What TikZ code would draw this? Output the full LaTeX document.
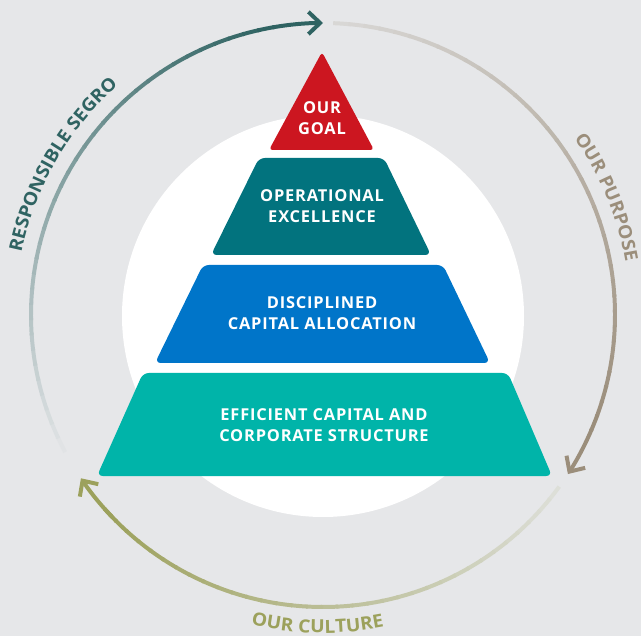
\documentclass[tikz,border=0pt]{standalone}
\usepackage{fontspec}
\setsansfont{Open Sans}
\usetikzlibrary{arrows.meta, decorations.text}

\definecolor{pagegrey}{HTML}{E6E7E9}
\definecolor{goalred}{HTML}{CC1620}
\definecolor{opteal}{HTML}{02737E}
\definecolor{capblue}{HTML}{0075C9}
\definecolor{effgreen}{HTML}{00B4A9}
\definecolor{respteal}{HTML}{2F6362}
\definecolor{purposetaupe}{HTML}{9B8E7B}
\definecolor{cultureolive}{HTML}{9CA15C}

\newcommand\pyrfont{\sffamily\bfseries\fontsize{14}{18}\selectfont\addfontfeatures{LetterSpace=5}}
\newcommand\arcfont{\sffamily\bfseries\fontsize{15.5}{15.5}\selectfont\addfontfeatures{FakeStretch=1.06}}

\tikzset{
  layer/.style={rounded corners=5pt},
  layertext/.style={text=white, align=center, font=\pyrfont},
  ring/.style={line width=3.4pt},
  tip/.style={-{Straight Barb[length=10pt, width=19pt]}},
  ringlabel/.style 2 args={decorate, decoration={text along path, text align=center,
      text color=#2, text={|\arcfont|#1}}},
}

\begin{document}
\begin{tikzpicture}[x=0.03cm, y=0.03cm]
  % page and white disc
  \fill[pagegrey] (0,0) rectangle (641,636);
  \useasboundingbox (0,0) rectangle (641,636);
  \coordinate (c) at (323,321);
  \fill[white] (323,320) circle[radius=201];

  % pyramid, bottom to top
  \fill[effgreen, layer] (97,160) -- (143,263) -- (508,263) -- (552,160) -- cycle;
  \fill[capblue, layer] (155,273) -- (203,371) -- (443,371) -- (490,273) -- cycle;
  \fill[opteal, layer] (211,381) -- (259,478) -- (384,478) -- (431,381) -- cycle;
  \fill[goalred, rounded corners=3pt] (269,486) -- (322,584) -- (374,486) -- cycle;

  \node[layertext] (effcap) at (324,211) {EFFICIENT CAPITAL AND\\CORPORATE STRUCTURE};
  \node[layertext] (capalloc) at (322,323) {DISCIPLINED\\CAPITAL ALLOCATION};
  \node[layertext] (opex) at (322,430) {OPERATIONAL\\EXCELLENCE};
  \node[layertext] (goal) at (322,518) {OUR\\GOAL};

  % responsible segro ring
  \foreach \i in {0,...,35}{
    \pgfmathsetmacro\a{208-3*\i}
    \pgfmathsetmacro\m{3+97*\i/35}
    \draw[ring, draw=respteal!\m!pagegrey] (c) ++(\a:292) arc[start angle=\a, delta angle=-3.4, radius=292];
  }
  \draw[ring, respteal, tip] (c) ++(100:292) arc[start angle=100, end angle=90, radius=292];

  % our purpose ring
  \foreach \i in {0,...,36}{
    \pgfmathsetmacro\a{88-3*\i}
    \pgfmathsetmacro\m{18+82*\i/36}
    \draw[ring, draw=purposetaupe!\m!pagegrey] (c) ++(\a:292) arc[start angle=\a, delta angle=-3.4, radius=292];
  }
  \draw[ring, purposetaupe, tip] (c) ++(-23:292) arc[start angle=-23, end angle=-33, radius=292];

  % our culture ring
  \foreach \i in {0,...,33}{
    \pgfmathsetmacro\a{-36-3*\i}
    \pgfmathsetmacro\m{12+88*\i/33}
    \draw[ring, draw=cultureolive!\m!pagegrey] (c) ++(\a:292) arc[start angle=\a, delta angle=-3.4, radius=292];
  }
  \draw[ring, cultureolive, tip] (c) ++(-136:292) arc[start angle=-136, end angle=-146, radius=292];

  % ring labels
  \path[ringlabel={RESPONSIBLE SEGRO}{respteal}]
    (c) ++(180:308) arc[start angle=180, end angle=120, radius=308];
  \path[ringlabel={OUR PURPOSE}{purposetaupe}]
    (c) ++(40:307) arc[start angle=40, end angle=5, radius=307];
  \path[ringlabel={OUR CULTURE}{cultureolive}]
    (c) ++(249:318) arc[start angle=249, end angle=289, radius=318];
\end{tikzpicture}
\end{document}
